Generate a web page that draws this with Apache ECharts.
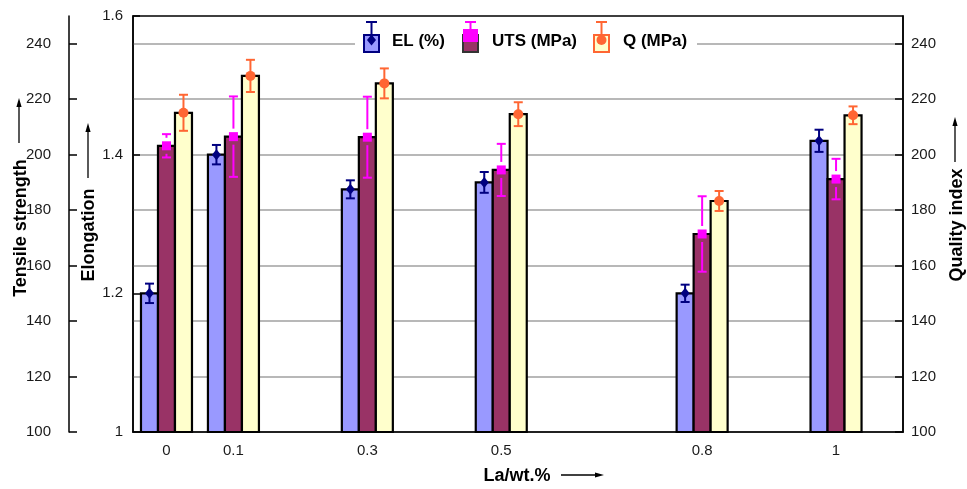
<!DOCTYPE html>
<html><head><meta charset="utf-8">
<script src="https://cdn.jsdelivr.net/npm/echarts@6/dist/echarts.min.js"></script>
<style>html,body{margin:0;padding:0;background:#fff}#chart{width:967px;height:489px}</style>
</head><body><div id="chart"></div>
<script>
// ---- data ----
const laContent = [0, 0.1, 0.3, 0.5, 0.8, 1];
const elValues  = [1.20, 1.40, 1.35, 1.36, 1.20, 1.42];
const elErrors  = [0.014, 0.014, 0.013, 0.015, 0.0125, 0.016];
const utsValues = [203.2, 206.5, 206.3, 194.5, 171.4, 191.2];
const utsErrors = [4.2, 14.5, 14.6, 9.4, 13.6, 7.3];
const qValues   = [215.1, 228.4, 225.7, 214.6, 183.3, 214.2];
const qErrors   = [6.5, 5.8, 5.4, 4.3, 3.6, 3.2];
const strengthTicks   = [100, 120, 140, 160, 180, 200, 220, 240];
const elongationTicks = [1, 1.2, 1.4, 1.6];
const legendNames = ['EL (%)', 'UTS (MPa)', 'Q (MPa)'];

const FONT = 'Liberation Sans, Arial, sans-serif';
const BW = 17;

function markerShape(kind, cx, cy, color) {
  if (kind === 'diamond') return {type:'polygon', shape:{points:[[cx,cy-5.5],[cx+4.5,cy],[cx,cy+5.5],[cx-4.5,cy]]}, style:{fill:color}};
  if (kind === 'square') return {type:'rect', shape:{x:cx-4.5,y:cy-4.5,width:9,height:9}, style:{fill:color}};
  return {type:'circle', shape:{cx:cx, cy:cy, r:5}, style:{fill:color}};
}

function makeSeries(name, yAxisIndex, values, errors, baseValue, offset, fill, errColor, marker, gap) {
  return {
    type: 'custom', name: name, xAxisIndex: 0, yAxisIndex: yAxisIndex,
    data: laContent.map((x, i) => [x, values[i], errors[i]]),
    encode: {x: 0, y: 1},
    clip: false,
    renderItem: function (params, api) {
      const x = api.value(0), v = api.value(1), e = api.value(2);
      const top = api.coord([x, v]);
      const base = api.coord([x, baseValue]);
      const hi = api.coord([x, v + e]);
      const lo = api.coord([x, v - e]);
      const cx = top[0] + offset;
      const ch = [];
      ch.push({type:'rect', shape:{x:cx-BW/2, y:top[1], width:BW, height:base[1]-top[1]},
               style:{fill:fill, stroke:'#000', lineWidth:2.2}});
      const ls = {stroke: errColor, lineWidth: 2};
      if (gap) {
        if (top[1] - gap > hi[1]) ch.push({type:'line', shape:{x1:cx,y1:hi[1],x2:cx,y2:top[1]-gap}, style:ls});
        if (top[1] + gap < lo[1]) ch.push({type:'line', shape:{x1:cx,y1:top[1]+gap,x2:cx,y2:lo[1]}, style:ls});
      } else {
        ch.push({type:'line', shape:{x1:cx,y1:hi[1],x2:cx,y2:lo[1]}, style:ls});
      }
      ch.push({type:'line', shape:{x1:cx-4.5,y1:hi[1],x2:cx+4.5,y2:hi[1]}, style:ls});
      ch.push({type:'line', shape:{x1:cx-4.5,y1:lo[1],x2:cx+4.5,y2:lo[1]}, style:ls});
      ch.push(markerShape(marker, cx, top[1], errColor));
      return {type:'group', children: ch};
    }
  };
}

function arrowV(x, yBottom, yTip) {
  return [
    {type:'line', z:100, shape:{x1:x,y1:yBottom,x2:x,y2:yTip+6}, style:{stroke:'#000', lineWidth:1.3}},
    {type:'polygon', z:100, shape:{points:[[x,yTip],[x+2.6,yTip+9],[x-2.6,yTip+9]]}, style:{fill:'#000'}}
  ];
}
function arrowH(xStart, xTip, y) {
  return [
    {type:'line', z:100, shape:{x1:xStart,y1:y,x2:xTip-6,y2:y}, style:{stroke:'#000', lineWidth:1.3}},
    {type:'polygon', z:100, shape:{points:[[xTip,y],[xTip-9,y-2.6],[xTip-9,y+2.6]]}, style:{fill:'#000'}}
  ];
}
function titleText(text, x, y, rot) {
  return {type:'text', z:100, x:x, y:y, rotation:rot,
    style:{text:text, font:'bold 18px ' + FONT, fill:'#000', align:'center', verticalAlign:'middle'}};
}
function legendItem(x, label, fill, stroke, errColor, marker, textX) {
  const items = [];
  items.push({type:'rect', z:101, shape:{x:x, y:35, width:15, height:17}, style:{fill:fill, stroke:stroke, lineWidth:2}});
  const cx = x + 7.5;
  items.push({type:'line', z:102, shape:{x1:cx,y1:22,x2:cx,y2:40}, style:{stroke:errColor, lineWidth:2}});
  items.push({type:'line', z:102, shape:{x1:cx-5.5,y1:22,x2:cx+5.5,y2:22}, style:{stroke:errColor, lineWidth:2}});
  const m = markerShape(marker, cx, 40, errColor);
  if (marker === 'square') { m.shape = {x:x, y:29, width:15, height:13}; }
  m.z = 102;
  items.push(m);
  items.push({type:'text', z:102, x:textX, y:41,
    style:{text:label, font:'bold 17px ' + FONT, fill:'#000', align:'left', verticalAlign:'middle'}});
  return items;
}

const axisLabelStyle = {fontSize: 15, fontFamily: FONT, color: '#1a1a1a'};

const option = {
  backgroundColor: '#fff',
  animation: false,
  grid: {left: 133, right: 64, top: 16, bottom: 57, show: true, borderColor: '#000', borderWidth: 1.5, containLabel: false},
  xAxis: {
    type: 'value', min: -0.05, max: 1.1,
    axisLine: {show: true, lineStyle: {color: '#000', width: 1.5}},
    axisTick: {show: false},
    splitLine: {show: false},
    axisLabel: Object.assign({customValues: laContent, margin: 11, formatter: v => String(v)}, axisLabelStyle)
  },
  yAxis: [
    { // Elongation (inner left)
      type: 'value', position: 'left', offset: 0, min: 1, max: 1.6, interval: 0.2,
      axisLine: {show: true, onZero: false, lineStyle: {color: '#000', width: 1.5}},
      axisTick: {show: true, inside: true, length: 7, customValues: elongationTicks, lineStyle: {color: '#000', width: 1.5}},
      axisLabel: Object.assign({customValues: elongationTicks, margin: 10}, axisLabelStyle),
      splitLine: {show: false}
    },
    { // Tensile strength (outer left)
      type: 'value', position: 'left', offset: 64, min: 100, max: 250, interval: 20,
      axisLine: {show: true, onZero: false, lineStyle: {color: '#000', width: 1.5}},
      axisTick: {show: true, inside: true, length: 8, customValues: strengthTicks, lineStyle: {color: '#000', width: 1.5}},
      axisLabel: Object.assign({customValues: strengthTicks, margin: 18}, axisLabelStyle),
      splitLine: {show: false}
    },
    { // Quality index (right)
      type: 'value', position: 'right', offset: 0, min: 100, max: 250, interval: 20,
      axisLine: {show: true, onZero: false, lineStyle: {color: '#000', width: 1.5}},
      axisTick: {show: true, inside: true, length: 8, customValues: strengthTicks, lineStyle: {color: '#000', width: 1.5}},
      axisLabel: Object.assign({customValues: strengthTicks, margin: 8}, axisLabelStyle),
      splitLine: {show: true, lineStyle: {color: '#a0a0a0', width: 1.6}}
    }
  ],
  series: [
    makeSeries(legendNames[0], 0, elValues, elErrors, 1, -BW, '#9999ff', '#000080', 'diamond', 0),
    makeSeries(legendNames[1], 1, utsValues, utsErrors, 100, 0, '#993366', '#ff00ff', 'square', 8),
    makeSeries(legendNames[2], 2, qValues, qErrors, 100, BW, '#ffffcc', '#ff6633', 'circle', 0)
  ],
  graphic: [].concat(
    [{type:'rect', z:100, shape:{x:355, y:27, width:342, height:30}, style:{fill:'#fff'}}],
    legendItem(364, legendNames[0], '#9999ff', '#000080', '#000080', 'diamond', 392),
    legendItem(463, legendNames[1], '#993366', '#333', '#ff00ff', 'square', 492),
    legendItem(594, legendNames[2], '#ffffcc', '#ff6633', '#ff6633', 'circle', 623),
    [titleText('Tensile strength', 21, 228, Math.PI/2)],
    arrowV(19, 143, 98),
    [titleText('Elongation', 89, 235, Math.PI/2)],
    arrowV(88, 178, 123),
    [titleText('Quality index', 957, 225, Math.PI/2)],
    arrowV(955, 162, 117),
    [titleText('La/wt.%', 517, 476, 0)],
    arrowH(561, 604, 475)
  )
};

const chart = echarts.init(document.getElementById('chart'), null, {renderer: 'canvas'});
chart.setOption(option);
</script>
</body></html>
